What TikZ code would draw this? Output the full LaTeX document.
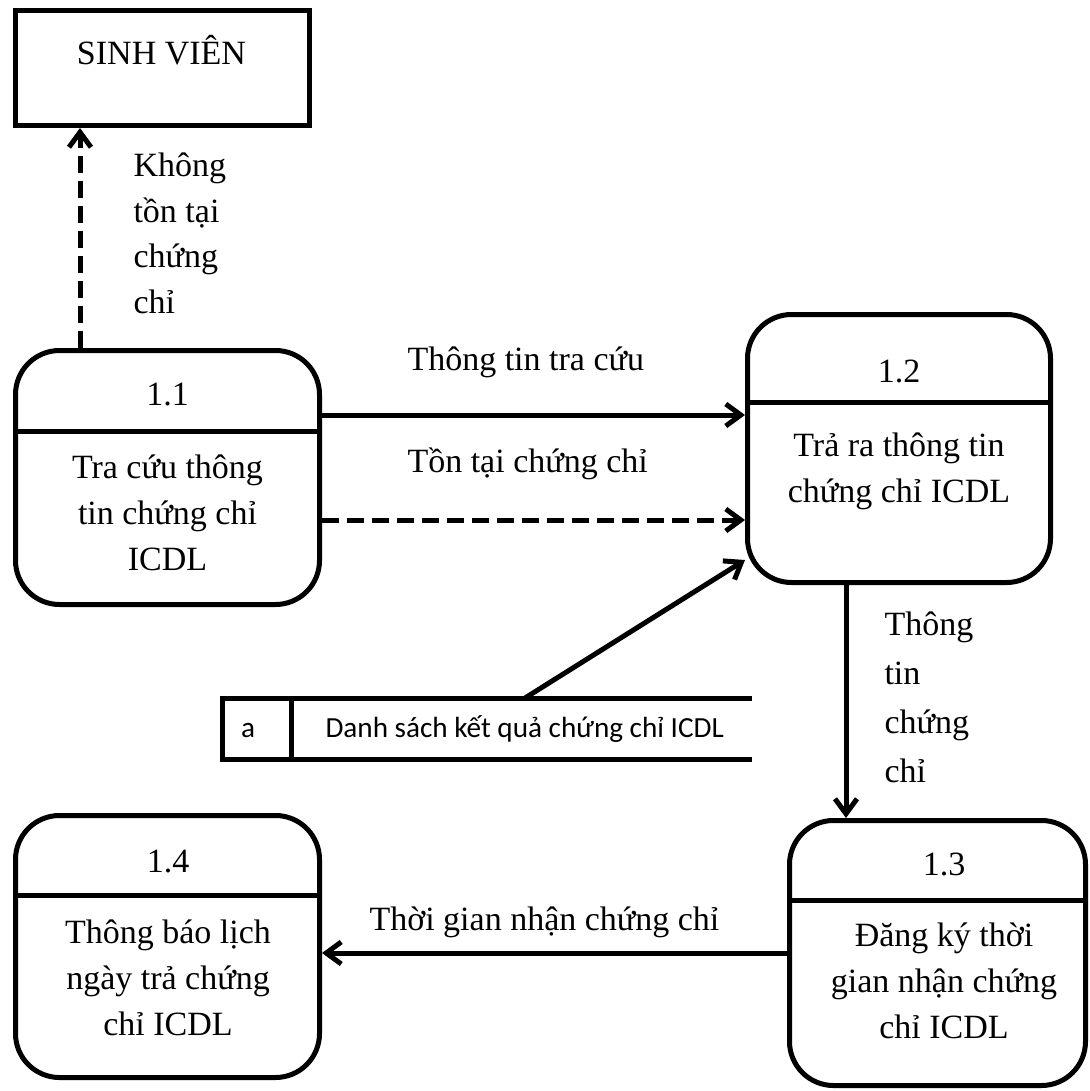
\documentclass[tikz,border=0pt]{standalone}
\usepackage{fontspec}
\setmainfont{Liberation Serif}
\newfontfamily\storefont{Carlito}
\usetikzlibrary{shapes,arrows.meta,positioning,calc}

\begin{document}
\begin{tikzpicture}[x=0.5pt,y=-0.5pt,line width=2.5pt,
    every node/.style={font=\fontsize{17}{23}\selectfont},
    proc/.style={draw,rounded corners=22pt,inner sep=0pt},
    entity/.style={draw,inner sep=0pt},
    flow/.style={-{Straight Barb[length=7.5pt,width=11pt]}},
    flowd/.style={flow,dash pattern=on 8.5pt off 4pt},
    lbl/.style={anchor=base west,align=left,inner sep=0pt},
    storetext/.style={font=\storefont\fontsize{14.6}{17}\selectfont,inner sep=0pt}]
    \useasboundingbox (0,0) rectangle (1090,1091);

    % External entity
    \node[entity,minimum width=147pt,minimum height=57.5pt] (sv) at (162.5,68) {};
    \node[anchor=base] (svname) at (161.5,65) {SINH VIÊN};

    % Processes
    \node[proc,minimum width=152pt,minimum height=127pt] (p11) at (167.5,477.5) {};
    \node[proc,minimum width=151.5pt,minimum height=134pt] (p12) at (899,448.5) {};
    \node[proc,minimum width=148pt,minimum height=132.5pt] (p13) at (937.5,953) {};
    \node[proc,minimum width=152pt,minimum height=131pt] (p14) at (167.5,946.5) {};

    \draw (p11.west |- 0,431) -- (p11.east |- 0,431);
    \draw (p12.west |- 0,402) -- (p12.east |- 0,402);
    \draw (p13.west |- 0,900) -- (p13.east |- 0,900);
    \draw (p14.west |- 0,895) -- (p14.east |- 0,895);

    \node[anchor=base] (n11) at (167.5,405) {1.1};
    \node[anchor=base] (n12) at (899,382) {1.2};
    \node[anchor=base] (n13) at (944,875) {1.3};
    \node[anchor=base] (n14) at (168,872) {1.4};

    % base = last line
    \node[anchor=base,align=center] (t11) at (167.5,570) {Tra cứu thông\\tin chứng chỉ\\ICDL};
    \node[anchor=base,align=center] (t12) at (899,502) {Trả ra thông tin\\chứng chỉ ICDL};
    \node[anchor=base,align=center] (t13) at (944,1038) {Đăng ký thời\\gian nhận chứng\\chỉ ICDL};
    \node[anchor=base,align=center] (t14) at (168,1035) {Thông báo lịch\\ngày trả chứng\\chỉ ICDL};

    % Data store
    \node[minimum width=264.75pt,minimum height=30.5pt,inner sep=0pt,outer sep=0pt] (ds) at (487.25,728.5) {};
    \draw (ds.north east) -- (ds.north west) -- (ds.south west) -- (ds.south east);
    \draw (ds.north west -| 291,0) -- (ds.south west -| 291,0);
    \node[storetext,anchor=base] (dsid) at (248,737) {a};
    \node[storetext,anchor=base west] (dsname) at (323,737) {Danh sách kết quả chứng chỉ ICDL};

    % Flows
    \draw[flowd] (p11.north -| 80,0) -- (sv.south -| 80,0);
    \draw[flow] (p11.east |- 0,415) -- (p12.west |- 0,415);
    \draw[flowd] (p11.east |- 0,520) -- (p12.west |- 0,520);
    \draw[flow] (ds.north -| 525,0) -- (p12.west |- 0,560);
    \draw[flow] (p12.south -| 846,0) -- (p13.north -| 846,0);
    \draw[flow] (p13.west) -- (p14.east |- p13.west);

    \node[lbl,font=\fontsize{17}{22.7}\selectfont] (lnone) at (131,313) {Không\\tồn tại\\chứng\\chỉ};
    \node[lbl] (linfo) at (405,370) {Thông tin tra cứu};
    \node[lbl] (lexist) at (405,472) {Tồn tại chứng chỉ};
    \node[lbl,font=\fontsize{17}{24.5}\selectfont] (lcert) at (882,782) {Thông\\tin\\chứng\\chỉ};
    \node[lbl] (ltime) at (367,930) {Thời gian nhận chứng chỉ};
\end{tikzpicture}
\end{document}
